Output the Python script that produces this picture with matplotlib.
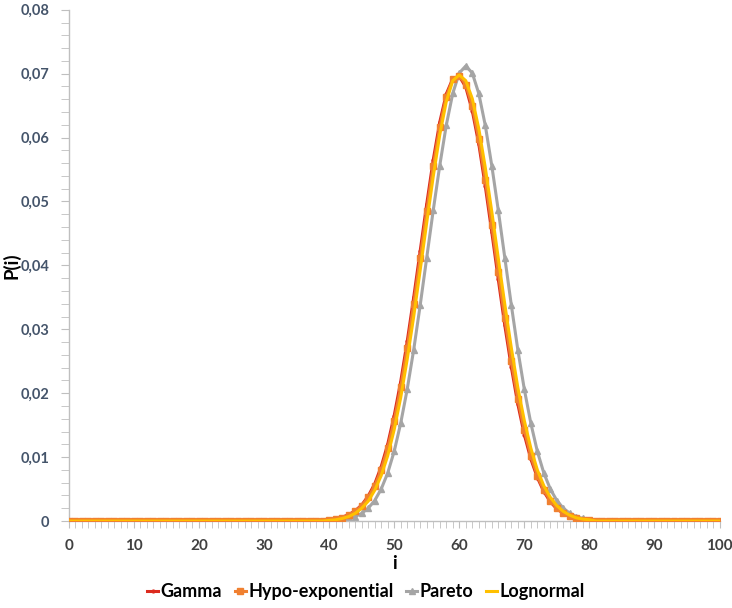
import matplotlib
matplotlib.use("Agg")
import matplotlib.pyplot as plt
from matplotlib.ticker import MultipleLocator, FuncFormatter

i_vals = list(range(0, 101))

gamma = [0.0] * 40 + [
    0.0002, 0.0003, 0.0006, 0.0010, 0.0016, 0.0025, 0.0039, 0.0058, 0.0085, 0.0120,
    0.0165, 0.0218, 0.0281, 0.0350, 0.0423, 0.0496, 0.0565, 0.0624, 0.0668, 0.0692,
    0.0696, 0.0679, 0.0642, 0.0590, 0.0524, 0.0452, 0.0378, 0.0306, 0.0241, 0.0183,
    0.0135, 0.0097, 0.0068, 0.0046, 0.0030, 0.0019, 0.0012, 0.0007, 0.0004, 0.0002,
    0.0001] + [0.0] * 20

hypo = [0.0] * 40 + [
    0.0002, 0.0003, 0.0005, 0.0009, 0.0015, 0.0024, 0.0037, 0.0055, 0.0080, 0.0114,
    0.0157, 0.0209, 0.0271, 0.0339, 0.0412, 0.0485, 0.0555, 0.0616, 0.0664, 0.0691,
    0.0697, 0.0683, 0.0649, 0.0598, 0.0534, 0.0463, 0.0389, 0.0317, 0.0250, 0.0191,
    0.0142, 0.0102, 0.0071, 0.0048, 0.0032, 0.0020, 0.0013, 0.0008, 0.0004, 0.0002,
    0.0001] + [0.0] * 20

pareto = [0.0] * 40 + [
    0.0000, 0.0001, 0.0002, 0.0004, 0.0007, 0.0012, 0.0020, 0.0032, 0.0050, 0.0075,
    0.0109, 0.0153, 0.0206, 0.0268, 0.0338, 0.0412, 0.0486, 0.0556, 0.0619, 0.0669,
    0.0701, 0.0712, 0.0701, 0.0669, 0.0619, 0.0556, 0.0486, 0.0412, 0.0338, 0.0268,
    0.0206, 0.0153, 0.0109, 0.0075, 0.0050, 0.0032, 0.0020, 0.0012, 0.0007, 0.0004,
    0.0002] + [0.0] * 20

lognormal = [0.0] * 40 + [
    0.0001, 0.0002, 0.0004, 0.0007, 0.0012, 0.0020, 0.0031, 0.0048, 0.0071, 0.0102,
    0.0143, 0.0193, 0.0253, 0.0320, 0.0393, 0.0467, 0.0539, 0.0604, 0.0656, 0.0689,
    0.0698, 0.0689, 0.0661, 0.0614, 0.0553, 0.0484, 0.0411, 0.0339, 0.0271, 0.0209,
    0.0157, 0.0114, 0.0080, 0.0055, 0.0037, 0.0024, 0.0015, 0.0009, 0.0005, 0.0003,
    0.0002] + [0.0] * 20

series_names = ["Gamma", "Hypo-exponential", "Pareto", "Lognormal"]

plt.rcParams['font.family'] = ['Lato', 'DejaVu Sans']

fig = plt.figure(figsize=(7.32, 6.08), dpi=100)
ax = fig.add_axes([0.094, 0.143, 0.889, 0.841])

ax.plot(i_vals, gamma, color="#DC2A1E", lw=2.2, marker="o", ms=2, label=series_names[0], zorder=3)
ax.plot(i_vals, hypo, color="#F08030", lw=2.2, marker="s", ms=4.5, label=series_names[1], zorder=4)
ax.plot(i_vals, pareto, color="#A5A5A5", lw=2.2, marker="^", ms=4, label=series_names[2], zorder=2)
ax.plot(i_vals, lognormal, color="#FFC000", lw=2.2, label=series_names[3], zorder=5)

ax.set_xlim(0, 100)
ax.set_ylim(0, 0.08)
ax.xaxis.set_major_locator(MultipleLocator(10))
ax.xaxis.set_minor_locator(MultipleLocator(1))
ax.yaxis.set_major_locator(MultipleLocator(0.01))
ax.yaxis.set_minor_locator(MultipleLocator(0.002))

def yfmt(v, pos):
    if abs(v) < 1e-9:
        return "0"
    return ("%.2f" % v).replace(".", ",")

ax.yaxis.set_major_formatter(FuncFormatter(yfmt))

for s in ["top", "right"]:
    ax.spines[s].set_visible(False)
for s in ["left", "bottom"]:
    ax.spines[s].set_color("#BFBFBF")
    ax.spines[s].set_linewidth(1)

ax.tick_params(axis="both", which="both", color="#BFBFBF", direction="out")
ax.tick_params(axis="y", which="major", length=6, labelsize=10.5, labelcolor="#44546A", pad=8)
ax.tick_params(axis="y", which="minor", length=6)
ax.tick_params(axis="x", which="major", length=5, labelsize=11, labelcolor="#404040", pad=8)
ax.tick_params(axis="x", which="minor", length=5)
for lab in ax.get_xticklabels() + ax.get_yticklabels():
    lab.set_fontweight("bold")

ax.set_xlabel("i", fontsize=13.5, fontweight="bold")
ax.xaxis.set_label_coords(0.5, -0.066)
ax.set_ylabel("P(i)", fontsize=13.5, fontweight="bold")
ax.yaxis.set_label_coords(-0.074, 0.5)

leg = fig.legend(loc="center", bbox_to_anchor=(0.5, 0.027), ncol=4, frameon=False,
                 handlelength=0.6, handletextpad=0.15, columnspacing=0.7,
                 prop={"weight": "bold", "size": 13})
for h, ms in zip(leg.legend_handles, [2, 4, 4, 0]):
    h.set_markersize(ms)

fig.savefig("out.png", dpi=100)
